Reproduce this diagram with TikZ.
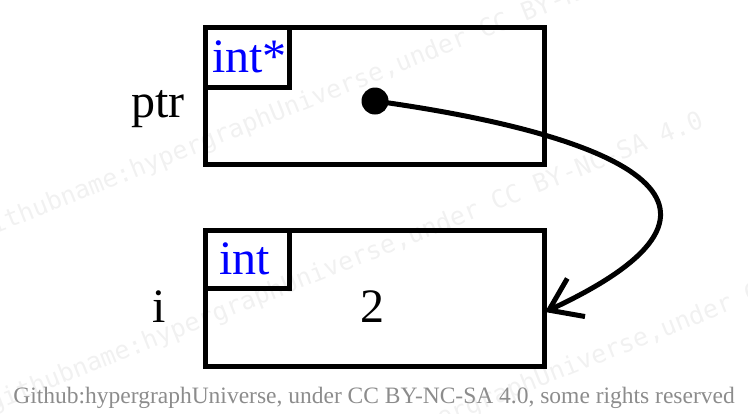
\documentclass[tikz,border=0pt]{standalone}
\usepackage{fontspec}
\setmainfont{Liberation Serif}
\newfontfamily\wmfont{DejaVu Sans Mono}
\usetikzlibrary{arrows.meta,calc}
\definecolor{typeblue}{RGB}{0,0,255}
\definecolor{footgray}{RGB}{140,140,140}
\definecolor{wmgray}{RGB}{241,241,241}
\begin{document}
\begin{tikzpicture}[x=1bp,y=-1bp,
  box/.style={draw, line width=5bp, rectangle, inner sep=0pt, outer sep=0pt},
  lbl/.style={inner sep=0pt, font=\fontsize{48bp}{58bp}\selectfont},
  typelbl/.style={lbl, text=typeblue},
  footer/.style={inner sep=0pt, text=footgray, font=\fontsize{23.5bp}{28bp}\selectfont},
  wm/.style={inner sep=0pt, text=wmgray, font=\wmfont\fontsize{25bp}{30bp}\selectfont, rotate=21.8},
  ptrdot/.style={circle, fill=black, inner sep=0pt, minimum size=27bp},
  conn/.style={line width=5bp, -{Straight Barb[length=30bp, width=42bp]}}
]
\useasboundingbox (0,0) rectangle (748,413);
% watermark
\node[wm, anchor=base west] (wmA) at (-20,240) {githubname:hypergraphUniverse,under CC BY-NC-SA 4.0};
\node[wm, anchor=base west] (wmB) at (-8,412) {githubname:hypergraphUniverse,under CC BY-NC-SA 4.0};
\node[wm, anchor=base west] (wmC) at (245,505) {githubname:hypergraphUniverse,under CC BY-NC-SA 4.0};
% boxes
\node[box, minimum width=339bp, minimum height=137bp] (ptrbox) at (374.5,95.5) {};
\node[box, anchor=north west, minimum width=84bp, minimum height=60bp] (ptrtype) at (ptrbox.north west) {};
\node[box, minimum width=339bp, minimum height=136bp] (ibox) at (374.5,298) {};
\node[box, anchor=north west, minimum width=84bp, minimum height=58bp] (itype) at (ibox.north west) {};
% labels
\node[lbl, anchor=base east] (ptrname) at (185,117) {ptr};
\node[lbl, anchor=base] (iname) at (159,322) {i};
\node[typelbl, anchor=base west] (ptrtypetxt) at (212,72) {int*};
\node[typelbl, anchor=base west] (itypetxt) at (219,274) {int};
\node[lbl, anchor=base] (ival) at (372,322) {2};
% pointer
\node[ptrdot] (dot) at (375,101) {};
\coordinate (tip) at (545,312);
\draw[conn] (dot.center) .. controls (613,134) and (781,202) .. (tip);
% footer
\node[footer, anchor=base east] (credit) at (735,403) {Github:hypergraphUniverse, under CC BY-NC-SA 4.0, some rights reserved};
\end{tikzpicture}
\end{document}
